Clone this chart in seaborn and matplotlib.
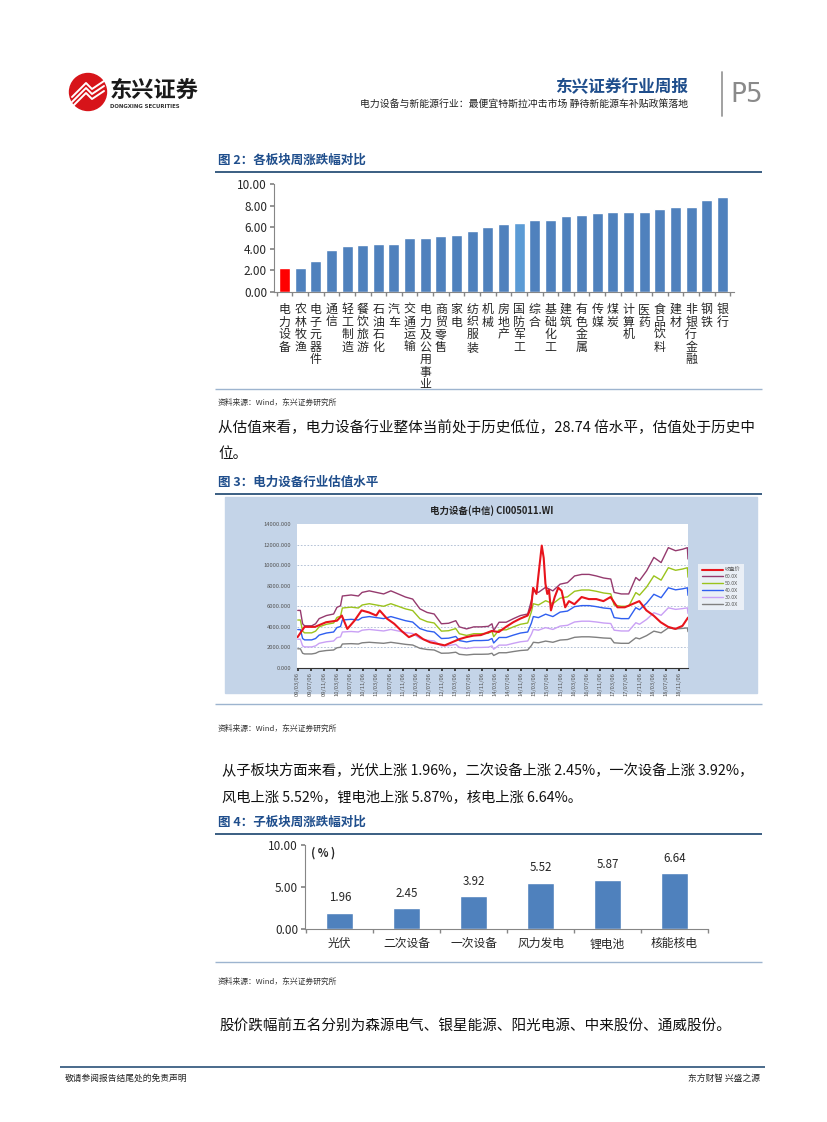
import numpy as np
import pandas as pd
import matplotlib
matplotlib.use('Agg')
import matplotlib.pyplot as plt
import seaborn as sns
from matplotlib.patches import Circle, Rectangle
from matplotlib.lines import Line2D

# ---- figure 2: sector weekly change ----
sectors = ['电力设备', '农林牧渔', '电子元器件', '通信', '轻工制造', '餐饮旅游', '石油石化', '汽车',
           '交通运输', '电力及公用事业', '商贸零售', '家电', '纺织服装', '机械', '房地产', '国防军工',
           '综合', '基础化工', '建筑', '有色金属', '传媒', '煤炭', '计算机', '医药', '食品饮料',
           '建材', '非银行金融', '钢铁', '银行']
sector_chg = [2.20, 2.18, 2.86, 3.88, 4.25, 4.34, 4.49, 4.49, 5.02, 5.02, 5.20, 5.29, 5.69, 6.06,
              6.34, 6.43, 6.65, 6.65, 7.02, 7.11, 7.32, 7.45, 7.45, 7.45, 7.69, 7.91, 7.91, 8.55, 8.83]

# ---- figure 3: PE band of CI005011.WI (values in thousands) ----
price_dates = ['2009-03-06', '2009-05-10', '2009-08-15', '2009-11-25', '2010-03-06', '2010-04-20',
               '2010-06-10', '2010-08-15', '2010-10-20', '2010-12-28', '2011-03-05', '2011-04-05',
               '2011-06-12', '2011-08-18', '2011-10-25', '2012-01-01', '2012-03-06', '2012-05-12',
               '2012-07-15', '2012-09-22', '2012-11-28', '2013-02-03', '2013-04-10', '2013-06-15',
               '2013-08-22', '2013-10-28', '2014-02-06', '2014-04-12', '2014-06-18', '2014-08-24',
               '2014-10-28', '2015-01-04', '2015-02-06', '2015-02-24', '2015-03-27', '2015-04-12',
               '2015-05-15', '2015-06-02', '2015-06-18', '2015-07-05', '2015-07-21', '2015-08-08',
               '2015-09-12', '2015-10-15', '2015-11-15', '2015-12-18', '2016-01-22', '2016-03-12',
               '2016-05-18', '2016-07-24', '2016-10-01', '2016-12-06', '2017-02-10', '2017-04-15',
               '2017-06-22', '2017-08-28', '2017-11-03', '2018-01-08', '2018-03-15', '2018-05-20',
               '2018-07-28', '2018-10-03', '2018-12-08', '2019-01-28']
price_vals = [3.0, 4.0, 4.0, 4.45, 4.6, 5.1, 3.8, 4.6, 5.6, 5.4, 5.1, 5.6, 4.8, 4.3, 3.6, 3.0,
              3.3, 2.8, 2.5, 2.35, 2.2, 2.5, 2.8, 3.0, 3.15, 3.2, 3.6, 3.5, 4.0, 4.45, 4.8, 5.1,
              5.9, 7.8, 7.2, 8.8, 11.9, 10.7, 8.2, 7.2, 7.6, 5.6, 6.9, 7.8, 7.5, 5.9, 6.5, 6.2,
              6.9, 6.7, 6.7, 6.5, 6.9, 5.9, 5.9, 6.2, 6.5, 5.6, 5.1, 4.45, 4.0, 3.8, 4.1, 4.9]

band_dates = ['2009-03-08', '2009-04-01', '2009-04-22', '2009-05-10', '2009-07-15', '2009-08-20',
              '2009-09-22', '2009-11-28', '2010-02-03', '2010-03-06', '2010-04-08', '2010-04-25',
              '2010-07-15', '2010-09-20', '2010-10-25', '2010-12-30', '2011-03-06', '2011-05-12',
              '2011-07-18', '2011-09-24', '2011-11-30', '2012-02-05', '2012-04-12', '2012-06-18',
              '2012-08-22', '2012-10-28', '2013-01-03', '2013-03-10', '2013-04-12', '2013-06-18',
              '2013-08-24', '2013-10-30', '2014-01-05', '2014-02-08', '2014-02-24', '2014-04-15',
              '2014-06-20', '2014-08-26', '2014-10-30', '2015-01-05', '2015-02-08', '2015-02-26',
              '2015-04-14', '2015-06-20', '2015-08-26', '2015-11-01', '2016-01-08', '2016-03-14',
              '2016-05-20', '2016-07-26', '2016-10-01', '2016-12-08', '2017-02-12', '2017-03-15',
              '2017-05-20', '2017-07-28', '2017-10-02', '2017-11-05', '2018-01-10', '2018-03-18',
              '2018-05-24', '2018-07-30', '2018-10-05', '2018-12-10', '2019-01-22', '2019-01-28']
band60_vals = [5.6, 5.6, 4.3, 4.1, 4.1, 4.3, 4.8, 5.1, 5.25, 5.9, 6.05, 7.0, 7.1, 7.0, 7.35, 7.5,
               7.35, 7.2, 7.5, 7.2, 6.9, 6.7, 5.75, 5.4, 5.25, 4.3, 4.35, 4.6, 4.0, 3.8, 4.0, 4.0,
               4.05, 4.3, 3.65, 4.45, 4.45, 4.8, 5.1, 5.25, 6.55, 7.5, 7.35, 7.85, 7.5, 8.15, 8.3,
               8.95, 9.1, 9.1, 8.95, 8.75, 8.65, 7.35, 7.2, 7.2, 8.8, 8.5, 9.45, 10.75, 10.25, 11.7,
               11.4, 11.55, 11.7, 10.6]
band_multiples = [60, 50, 40, 30, 20]
band_labels = ['60.0X', '50.0X', '40.0X', '30.0X', '20.0X']
band_colors = ['#953a6e', '#9bc31c', '#2f5ff0', '#c9a0f5', '#808080']
tick_labels3 = ['09/03/06', '09/07/06', '09/11/06', '10/03/06', '10/07/06', '10/11/06',
                '11/03/06', '11/07/06', '11/11/06', '12/03/06', '12/07/06', '12/11/06',
                '13/03/06', '13/07/06', '13/11/06', '14/03/06', '14/07/06', '14/11/06',
                '15/03/06', '15/07/06', '15/11/06', '16/03/06', '16/07/06', '16/11/06',
                '17/03/06', '17/07/06', '17/11/06', '18/03/06', '18/07/06', '18/11/06']

# ---- figure 4: sub-sector weekly change ----
sub_sectors = ['光伏', '二次设备', '一次设备', '风力发电', '锂电池', '核能核电']
sub_chg = [1.96, 2.45, 3.92, 5.52, 5.87, 6.64]

BLUE = '#4f81bd'
NAVY = '#1f4e8c'
W, H = 827, 1122

sns.set_theme(style='white')
plt.rcParams['font.family'] = ['Noto Sans CJK SC', 'DejaVu Sans']
plt.rcParams['axes.unicode_minus'] = False

fig = plt.figure(figsize=(8.27, 11.22), dpi=100)
page = fig.add_axes([0, 0, 1, 1])
page.set_xlim(0, W)
page.set_ylim(H, 0)
page.axis('off')


def add_ax(x0, y0, x1, y1):
    return fig.add_axes([x0 / W, 1 - y1 / H, (x1 - x0) / W, (y1 - y0) / H])


def hline(y, x0=215, x1=762, color='#2b5278', lw=1.3):
    page.plot([x0, x1], [y, y], color=color, lw=lw, solid_capstyle='butt')


# header
page.add_patch(Circle((88, 92), 18.5, color='#d7141a'))
for dy in [-3, 2, 7]:
    page.plot([72, 86, 92, 104], [100 + dy, 86 + dy, 92 + dy, 84 + dy], color='white', lw=1.4)
page.text(110, 90, '东兴证券', fontsize=16, fontweight='bold', color='#1a1a1a', va='center')
page.text(110, 106.5, 'DONGXING SECURITIES', fontsize=3.9, fontweight='bold', color='#333',
          va='center', family='DejaVu Sans')
page.text(688, 87, '东兴证券行业周报', fontsize=12, fontweight='bold', color=NAVY, ha='right', va='center')
page.text(688, 104, '电力设备与新能源行业：最便宜特斯拉冲击市场 静待新能源车补贴政策落地',
          fontsize=7.1, color='#222', ha='right', va='center', fontweight='light')
page.plot([722, 722], [72, 116], color='#9a9a9a', lw=1.3)
page.text(730, 95, 'P5', fontsize=19, color='#8a8a8a', va='center', family='DejaVu Sans')

# section titles, rules, sources, paragraphs
for y, s in [(160, '图 2：各板块周涨跌幅对比'), (482, '图 3：电力设备行业估值水平'), (822, '图 4：子板块周涨跌幅对比')]:
    page.text(218, y, s, fontsize=9, fontweight='bold', color=NAVY, va='center')
for y in [172, 494, 834]:
    hline(y)
for y in [389, 704, 962]:
    hline(y, color='#9db4cf', lw=1.0)
for y in [403, 729, 982]:
    page.text(218, y, '资料来源：Wind，东兴证券研究所', fontsize=5.6, color='#333', va='center',
              style='italic')

body = dict(fontsize=10.5, color='#111', va='center', fontweight='light')
page.text(218, 428, '从估值来看，电力设备行业整体当前处于历史低位，28.74 倍水平，估值处于历史中', **body)
page.text(218, 454, '位。', **body)
page.text(222, 771, '从子板块方面来看，光伏上涨 1.96%，二次设备上涨 2.45%，一次设备上涨 3.92%，',
          **{**body, 'fontsize': 10.3})
page.text(222, 797, '风电上涨 5.52%，锂电池上涨 5.87%，核电上涨 6.64%。', **{**body, 'fontsize': 10.3})
page.text(220, 1027, '股价跌幅前五名分别为森源电气、银星能源、阳光电源、中来股份、通威股份。', **body)

# footer
hline(1067, 60, 765, color='#2b5278', lw=1.2)
page.text(65, 1078, '敬请参阅报告结尾处的免责声明', fontsize=6.3, color='#222', va='center')
page.text(760, 1078, '东方财智 兴盛之源', fontsize=6.3, color='#222', va='center', ha='right')

# ---- chart 2 ----
ax1 = add_ax(274, 184, 734, 292)
colors1 = [BLUE] * len(sectors)
colors1[0] = '#ff0000'
colors1[sectors.index('国防军工')] = '#5b9bd5'
sns.barplot(x=sectors, y=sector_chg, hue=sectors, palette=colors1, legend=False,
            width=0.7, saturation=1, ax=ax1)
ax1.set_xlim(-0.67, 28.74)
ax1.set_ylim(0, 10)
ax1.set_yticks(np.arange(0, 10.01, 2))
ax1.set_yticklabels([f'{v:.2f}' for v in np.arange(0, 10.01, 2)], fontsize=8.5)
ax1.set_xticks(range(len(sectors)))
ax1.set_xticklabels(['\n'.join(s) for s in sectors], fontsize=8.6, linespacing=0.95)
ax1.set_xticks(np.arange(-0.5, len(sectors), 1), minor=True)
ax1.tick_params(axis='x', which='major', length=0, pad=8)
ax1.tick_params(axis='x', which='minor', length=3, color='#868686', direction='out', bottom=True)
ax1.tick_params(axis='y', length=3, color='#868686', direction='out', left=True, pad=2)
for sp in ['top', 'right']:
    ax1.spines[sp].set_visible(False)
for sp in ['left', 'bottom']:
    ax1.spines[sp].set_color('#868686')
    ax1.spines[sp].set_linewidth(0.8)
ax1.set_facecolor('none')

# ---- chart 3 ----
page.add_patch(Rectangle((225, 497), 532, 196, color='#c4d4e8', zorder=0))
page.text(492, 511, '电力设备(中信) CI005011.WI', fontsize=6.8, fontweight='bold', color='#222',
          ha='center', va='center')
ax3 = add_ax(297, 524, 688, 668)
ax3.set_facecolor('white')
pd_price = pd.to_datetime(price_dates)
pd_band = pd.to_datetime(band_dates)
band60 = np.array(band60_vals) * 1000
for m, lab, col in zip(band_multiples[::-1], band_labels[::-1], band_colors[::-1]):
    sns.lineplot(x=pd_band, y=band60 * m / 60, color=col, lw=1.0, ax=ax3, estimator=None)
sns.lineplot(x=pd_price, y=np.array(price_vals) * 1000, color='#e8141c', lw=1.5, ax=ax3, estimator=None)
ax3.set_ylim(0, 14000)
ax3.set_xlim(pd.Timestamp('2009-03-01'), pd.Timestamp('2019-01-28'))
ax3.set_yticks(range(0, 14001, 2000))
ax3.set_yticklabels([f'{v}.000' for v in range(0, 14001, 2000)], fontsize=4.2, color='#555')
for v in range(2000, 13000, 2000):
    ax3.axhline(v, color='#a8b8d0', lw=0.6, ls=(0, (2, 2)), zorder=0)
tick_dates = pd.to_datetime(['20' + t.replace('/', '-') for t in tick_labels3])
ax3.set_xticks(tick_dates)
ax3.set_xticklabels(tick_labels3, rotation=90, fontsize=4.2, color='#555')
ax3.tick_params(axis='x', length=2, color='#333', direction='out', bottom=True, pad=1)
ax3.tick_params(axis='y', length=0, pad=4)
for sp in ['top', 'right', 'left']:
    ax3.spines[sp].set_visible(False)
ax3.spines['bottom'].set_color('#333')
ax3.spines['bottom'].set_linewidth(0.8)
ax3.set_xlabel('')
ax3.set_ylabel('')
handles = [Line2D([], [], color='#e8141c', lw=1.5)] + [Line2D([], [], color=c, lw=1.0) for c in band_colors]
leg = fig.legend(handles, ['收盘价'] + band_labels, loc='center',
                 bbox_to_anchor=(721 / W, 1 - 587 / H), fontsize=3.8, frameon=True,
                 facecolor='#f4f6fa', edgecolor='none', fancybox=False, handlelength=4,
                 labelspacing=0.35, borderpad=0.6, handletextpad=0.4)
for t in leg.get_texts():
    t.set_color('#555')

# ---- chart 4 ----
ax4 = add_ax(305, 845, 708, 929)
sns.barplot(x=sub_sectors, y=sub_chg, color=BLUE, width=0.4, saturation=1, ax=ax4)
ax4.set_ylim(0, 10)
ax4.set_xlim(-0.52, 5.49)
ax4.set_yticks([0, 5, 10])
ax4.set_yticklabels(['0.00', '5.00', '10.00'], fontsize=8.5)
ax4.bar_label(ax4.containers[0], labels=[f'{v:.2f}' for v in sub_chg], padding=6, fontsize=8.3)
ax4.set_xticks(range(len(sub_sectors)))
ax4.set_xticklabels(sub_sectors, fontsize=8.5)
ax4.set_xticks(np.arange(-0.5, len(sub_sectors), 1), minor=True)
ax4.tick_params(axis='x', which='major', length=0, pad=6)
ax4.tick_params(axis='x', which='minor', length=3, color='#868686', direction='out', bottom=True)
ax4.tick_params(axis='y', length=3, color='#868686', direction='out', left=True, pad=2)
for sp in ['top', 'right']:
    ax4.spines[sp].set_visible(False)
for sp in ['left', 'bottom']:
    ax4.spines[sp].set_color('#868686')
    ax4.spines[sp].set_linewidth(0.8)
ax4.text(0.015, 0.9, '( % )', transform=ax4.transAxes, fontsize=8, fontweight='bold', va='center')
ax4.set_facecolor('none')

fig.savefig('out.png', dpi=100)
